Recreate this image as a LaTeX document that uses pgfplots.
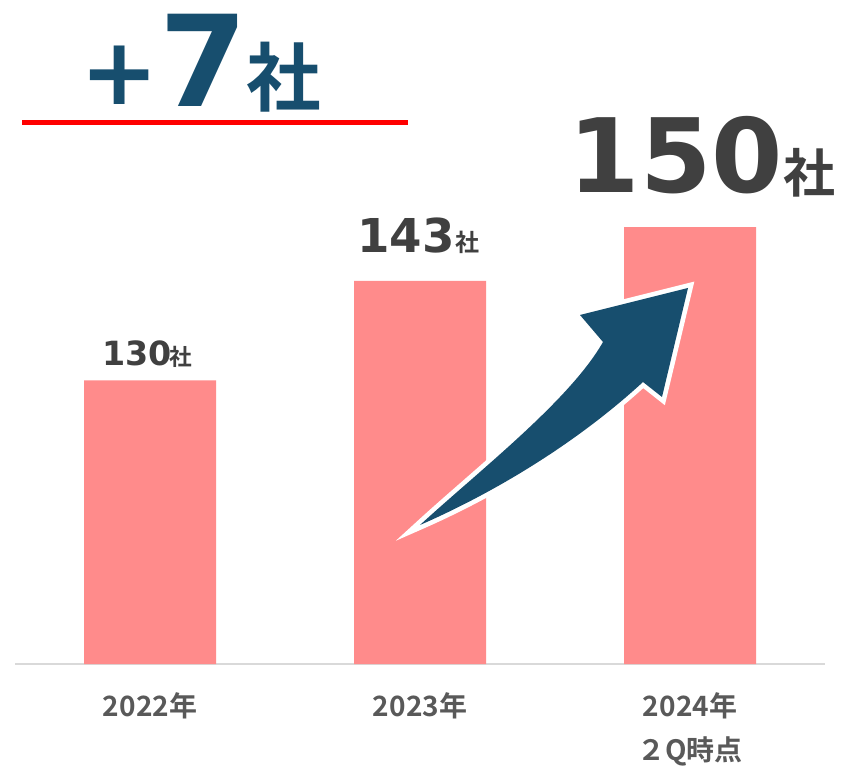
\documentclass[border=0pt]{standalone}
\usepackage{pgfplots}
\pgfplotsset{compat=1.18}
\usepackage{fontspec}
\setmainfont{DejaVu Sans}
\newfontfamily\jp{Noto Sans CJK JP Bold}
\definecolor{barc}{HTML}{FF8B8B}
\definecolor{navy}{HTML}{174E6E}
\definecolor{dgray}{HTML}{404040}
\definecolor{tgray}{HTML}{595959}
\definecolor{axc}{HTML}{D9D9D9}
\begin{document}
\begin{tikzpicture}
\begin{axis}[at={(11.25pt,77.25pt)},anchor=south west,scale only axis,
 width=607.5pt,height=482.25pt,xmin=-0.5,xmax=2.5,ymin=93,ymax=176.9,
 ybar,bar width=99pt,axis x line*=bottom,axis y line=none,
 x axis line style={-,draw=axc,line width=1.2pt},
 xtick=data,major tick length=0pt,
 xticklabels={2022年,2023年,{2024年\\２Q時点}},
 xticklabel style={font=\jp\fontsize{21pt}{33pt}\selectfont,text=tgray,
   align=center,anchor=north,inner sep=0pt,yshift=-21pt}]
\addplot[fill=barc,draw=none] coordinates {(0,130) (1,143) (2,150)};
\end{axis}
% annotations, in pixel units of the reference (y downwards)
\begin{scope}[x=0.75pt,y=-0.75pt,shift={(0pt,575.25pt)}]
\def\arrowpath{(420,525) .. controls (480,470) and (570,400) .. (603,342)
  -- (580,315) -- (688,288) -- (662,397) -- (643,382)
  .. controls (580,440) and (500,490) .. cycle}
\draw[white,line width=7pt,line join=miter,miter limit=12] \arrowpath;
\fill[navy] \arrowpath;
\draw[red,line width=3.75pt] (22,123) -- (408,123);
\node[anchor=center,inner sep=0,text=navy,font=\fontsize{70pt}{70pt}\selectfont\bfseries] at (120,75) {+};
\node[anchor=base,inner sep=0,text=navy,font=\fontsize{95pt}{95pt}\selectfont\bfseries] at (204,107) {7};
\node[anchor=base,inner sep=0,text=navy,font=\jp\fontsize{56pt}{56pt}\selectfont] at (284,106) {社};
\node[anchor=base,inner sep=0,text=dgray,font=\fontsize{77pt}{77pt}\selectfont\bfseries] at (676,193) {150};
\node[anchor=base,inner sep=0,text=dgray,font=\jp\fontsize{39pt}{39pt}\selectfont] at (809,193) {社};
\node[anchor=base,inner sep=0,text=dgray,font=\fontsize{35pt}{35pt}\selectfont\bfseries] at (406,253) {143};
\node[anchor=base,inner sep=0,text=dgray,font=\jp\fontsize{18pt}{18pt}\selectfont] at (467,252) {社};
\node[anchor=base,inner sep=0,text=dgray,font=\fontsize{25pt}{25pt}\selectfont\bfseries] at (137,366) {130};
\node[anchor=base,inner sep=0,text=dgray,font=\jp\fontsize{17pt}{17pt}\selectfont] at (181,366) {社};
\end{scope}
\pgfresetboundingbox
\path (0pt,0pt) rectangle (630.75pt,575.25pt);
\end{tikzpicture}
\end{document}
